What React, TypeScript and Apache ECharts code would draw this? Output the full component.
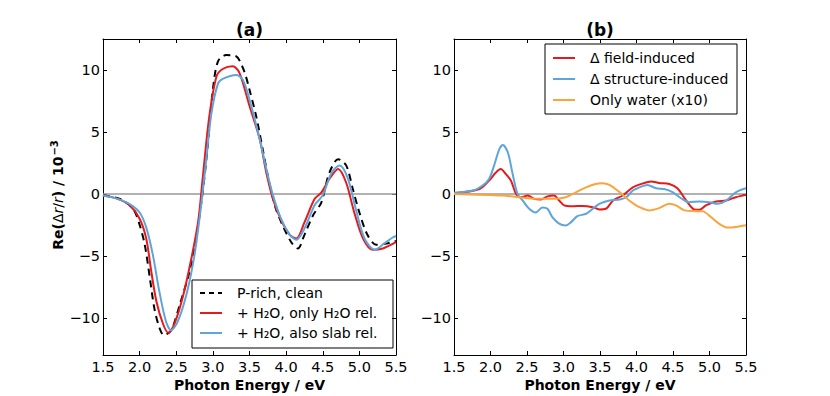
import React, { useEffect, useRef } from "react";
import * as echarts from "echarts";

// ---------- Panel (a) ----------
const E_CLEAN = [1.5, 1.73, 1.91, 2.0, 2.07, 2.14, 2.2, 2.27, 2.33, 2.4, 2.45, 2.55, 2.68, 2.77, 2.86, 2.93, 3.0, 3.07, 3.18, 3.32, 3.4, 3.45, 3.5, 3.59, 3.68, 3.77, 3.86, 3.95, 4.07, 4.16, 4.25, 4.37, 4.48, 4.59, 4.71, 4.82, 4.91, 5.0, 5.11, 5.23, 5.37, 5.5];
const V_CLEAN = [-0.13, -0.4, -1.2, -2.5, -4.1, -6.8, -9.2, -10.8, -11.4, -11.2, -10.8, -8.9, -6.3, -3.6, 0.1, 3.9, 8.4, 10.7, 11.2, 11.1, 10.3, 9.5, 8.4, 6.3, 3.6, 0.9, -1.2, -2.5, -3.9, -4.4, -3.3, -1.7, -0.7, 1.7, 2.8, 2.3, 0.4, -1.5, -3.3, -4.1, -4.0, -3.8];

const E_ONLY = [1.5, 1.7, 1.86, 2.0, 2.09, 2.16, 2.23, 2.32, 2.39, 2.48, 2.59, 2.7, 2.8, 2.86, 2.95, 3.05, 3.14, 3.27, 3.36, 3.5, 3.64, 3.73, 3.82, 3.93, 4.05, 4.14, 4.25, 4.39, 4.48, 4.59, 4.71, 4.82, 4.93, 5.05, 5.18, 5.32, 5.5];
const V_ONLY = [-0.1, -0.4, -0.9, -2.0, -3.6, -6.3, -8.7, -10.5, -11.2, -10.4, -8.3, -5.4, -2.2, 1.2, 6.2, 9.5, 10.1, 10.3, 9.8, 7.1, 4.4, 1.7, -0.4, -2.1, -3.3, -3.6, -2.3, -0.4, 0.1, 1.2, 2.0, 0.9, -1.5, -3.6, -4.5, -4.4, -3.9];

const E_SLAB = [1.5, 1.7, 1.86, 2.0, 2.09, 2.18, 2.27, 2.36, 2.43, 2.52, 2.64, 2.75, 2.84, 2.91, 2.98, 3.07, 3.14, 3.32, 3.41, 3.5, 3.64, 3.73, 3.82, 3.93, 4.05, 4.14, 4.25, 4.39, 4.5, 4.62, 4.73, 4.84, 4.95, 5.07, 5.21, 5.34, 5.46, 5.5];
const V_SLAB = [-0.13, -0.4, -0.8, -1.5, -2.7, -4.9, -7.9, -10.3, -11.0, -10.3, -8.1, -4.9, -0.9, 2.8, 6.5, 8.9, 9.3, 9.6, 9.2, 7.6, 4.4, 2.0, -0.1, -2.0, -3.3, -3.7, -2.8, -0.9, -0.1, 1.7, 2.3, 1.3, -1.2, -3.6, -4.5, -4.0, -3.5, -3.4];

// ---------- Panel (b) ----------
const E_FIELD = [1.5, 1.85, 1.98, 2.07, 2.14, 2.21, 2.28, 2.35, 2.42, 2.51, 2.6, 2.69, 2.78, 2.87, 2.94, 3.01, 3.12, 3.26, 3.4, 3.49, 3.58, 3.68, 3.81, 3.95, 4.09, 4.2, 4.31, 4.45, 4.56, 4.68, 4.79, 4.86, 4.95, 5.09, 5.23, 5.36, 5.5];
const V_FIELD = [0.05, 0.4, 1.07, 1.7, 2.0, 1.6, 1.07, 0, -0.27, -0.13, -0.4, -0.45, -0.2, -0.13, -0.53, -0.93, -1.0, -0.97, -1.07, -1.25, -1.2, -0.53, -0.13, 0.53, 0.85, 1.0, 0.88, 0.8, 0.45, -0.53, -1.25, -1.28, -0.93, -0.61, -0.53, -0.27, -0.08];

const E_STRUCT = [1.5, 1.76, 1.89, 1.98, 2.05, 2.12, 2.17, 2.24, 2.3, 2.37, 2.44, 2.53, 2.62, 2.71, 2.78, 2.85, 2.94, 3.03, 3.1, 3.19, 3.31, 3.4, 3.49, 3.63, 3.77, 3.86, 3.95, 4.04, 4.15, 4.27, 4.38, 4.5, 4.61, 4.72, 4.86, 5.0, 5.11, 5.23, 5.36, 5.5];
const V_STRUCT = [0.1, 0.27, 0.67, 1.2, 2.3, 3.6, 3.95, 3.3, 1.7, 0, -0.53, -1.2, -1.5, -1.1, -1.2, -1.9, -2.4, -2.55, -2.3, -1.8, -1.6, -1.2, -0.8, -0.53, -0.45, -0.27, 0.27, 0.53, 0.72, 0.45, 0.4, 0.13, -0.35, -0.67, -0.61, -0.67, -0.8, -0.53, 0.13, 0.45];

const E_WATER = [1.5, 2.17, 2.39, 2.62, 2.85, 3.03, 3.17, 3.31, 3.44, 3.53, 3.63, 3.77, 3.9, 4.04, 4.18, 4.31, 4.45, 4.54, 4.66, 4.82, 4.91, 5.02, 5.13, 5.25, 5.36, 5.5];
const V_WATER = [0, -0.13, -0.27, -0.4, -0.4, -0.27, 0.13, 0.53, 0.8, 0.85, 0.72, 0.13, -0.53, -1.07, -1.33, -1.15, -0.8, -0.93, -1.33, -1.39, -1.41, -1.87, -2.4, -2.72, -2.67, -2.53];

// ---------- Axes ----------
const X_TICKS = [1.5, 2.0, 2.5, 3.0, 3.5, 4.0, 4.5, 5.0, 5.5];
const Y_TICKS = [-10, -5, 0, 5, 10];
const X_MIN = 1.5;
const X_MAX = 5.5;
const Y_MIN = -13;
const Y_MAX = 12.5;

const TITLES = ["(a)", "(b)"];
const X_NAME = "Photon Energy / eV";
const LEGEND_A = ["P-rich, clean", "+ H₂O, only H₂O rel.", "+ H₂O, also slab rel."];
const LEGEND_B = ["Δ field-induced", "Δ structure-induced", "Only water (x10)"];

const RED = "#e41a1c";
const BLUE = "#5da5da";
const ORANGE = "#faa43a";
const FONT = "DejaVu Sans";
const TICK_FS = 14.5;

const zip = (xs: number[], ys: number[]) => xs.map((x, i) => [x, ys[i]]);

function xAxisDef(gridIndex: number, position: "bottom" | "top", labels: boolean) {
  return {
    type: "value",
    gridIndex,
    position,
    min: X_MIN,
    max: X_MAX,
    axisLine: { show: true, onZero: false, lineStyle: { color: "#000", width: 1 } },
    axisTick: { show: true, inside: true, length: 4, customValues: X_TICKS, lineStyle: { color: "#000", width: 1 } },
    axisLabel: {
      show: labels,
      customValues: X_TICKS,
      formatter: (v: number) => v.toFixed(1),
      color: "#000",
      fontSize: TICK_FS,
      fontFamily: FONT,
      margin: 4,
    },
    splitLine: { show: false },
  };
}

function yAxisDef(gridIndex: number, position: "left" | "right", labels: boolean) {
  return {
    type: "value",
    gridIndex,
    position,
    min: Y_MIN,
    max: Y_MAX,
    axisLine: { show: true, onZero: false, lineStyle: { color: "#000", width: 1 } },
    axisTick: { show: true, inside: true, length: 4, customValues: Y_TICKS, lineStyle: { color: "#000", width: 1 } },
    axisLabel: {
      show: labels,
      customValues: Y_TICKS,
      formatter: (v: number) => String(v).replace("-", "\u2212"),
      color: "#000",
      fontSize: TICK_FS,
      fontFamily: FONT,
      margin: 3,
    },
    splitLine: { show: false },
  };
}

function lineSeries(name: string, xi: number, yi: number, data: number[][], color: string, type: any, withZero: boolean) {
  const s: any = {
    type: "line",
    name,
    xAxisIndex: xi,
    yAxisIndex: yi,
    data,
    symbol: "none",
    showSymbol: false,
    smooth: 0.3,
    lineStyle: { color, width: 2, type },
    silent: true,
  };
  if (withZero) {
    s.markLine = {
      silent: true,
      symbol: "none",
      label: { show: false },
      lineStyle: { color: "#999", width: 1.5, type: "solid" },
      data: [{ yAxis: 0 }],
      z: 1,
    };
  }
  return s;
}

function legendGraphic(x: number, y: number, w: number, h: number, rows: number[], items: { text: string; color: string; dash: any }[]) {
  const children: any[] = [
    { type: "rect", shape: { x, y, width: w, height: h }, style: { fill: "#fff", stroke: "#000", lineWidth: 1 } },
  ];
  items.forEach((it, i) => {
    children.push({
      type: "line",
      shape: { x1: x + 8, y1: rows[i], x2: x + 30, y2: rows[i] },
      style: { stroke: it.color, lineWidth: 2, lineDash: it.dash },
    });
    children.push({
      type: "text",
      x: x + 45,
      y: rows[i],
      style: { text: it.text, fontSize: 14, fontFamily: FONT, fill: "#000", verticalAlign: "middle", align: "left" },
    });
  });
  return { type: "group", children };
}

export default function App() {
  const ref = useRef<HTMLDivElement>(null);
  useEffect(() => {
    if (!ref.current) return;
    const chart = echarts.init(ref.current, null, { renderer: "svg" });
    const titleStyle = { fontSize: 17, fontWeight: "bold", fontFamily: FONT, fill: "#000", align: "center", verticalAlign: "middle" };
    const nameStyle = { fontSize: 14, fontWeight: "bold", fontFamily: FONT, fill: "#000", align: "center", verticalAlign: "middle" };
    const option: any = {
      animation: false,
      backgroundColor: "#fff",
      grid: [
        { left: 103, top: 39, width: 293, height: 316 },
        { left: 454, top: 39, width: 292, height: 316 },
      ],
      xAxis: [xAxisDef(0, "bottom", true), xAxisDef(0, "top", false), xAxisDef(1, "bottom", true), xAxisDef(1, "top", false)],
      yAxis: [yAxisDef(0, "left", true), yAxisDef(0, "right", false), yAxisDef(1, "left", true), yAxisDef(1, "right", false)],
      series: [
        lineSeries(LEGEND_A[0], 0, 0, zip(E_CLEAN, V_CLEAN), "#000", [7, 5], true),
        lineSeries(LEGEND_A[1], 0, 0, zip(E_ONLY, V_ONLY), RED, "solid", false),
        lineSeries(LEGEND_A[2], 0, 0, zip(E_SLAB, V_SLAB), BLUE, "solid", false),
        lineSeries(LEGEND_B[0], 2, 2, zip(E_FIELD, V_FIELD), RED, "solid", true),
        lineSeries(LEGEND_B[1], 2, 2, zip(E_STRUCT, V_STRUCT), BLUE, "solid", false),
        lineSeries(LEGEND_B[2], 2, 2, zip(E_WATER, V_WATER), ORANGE, "solid", false),
      ],
      graphic: [
        { type: "text", x: 249.5, y: 30, style: { ...titleStyle, text: TITLES[0] } },
        { type: "text", x: 600, y: 30, style: { ...titleStyle, text: TITLES[1] } },
        { type: "text", x: 249.5, y: 385, style: { ...nameStyle, text: X_NAME } },
        { type: "text", x: 600, y: 385, style: { ...nameStyle, text: X_NAME } },
        {
          type: "text",
          x: 58,
          y: 195,
          rotation: Math.PI / 2,
          style: {
            text: "{b|Re(}{m|Δ}{i|r}{m|/}{i|r}{b|) / 10}{s|−3}",
            align: "center",
            verticalAlign: "middle",
            fill: "#000",
            rich: {
              b: { fontSize: 14, fontWeight: "bold", fontFamily: FONT, fill: "#000" },
              m: { fontSize: 14, fontFamily: FONT, fill: "#000" },
              i: { fontSize: 14, fontStyle: "italic", fontFamily: FONT, fill: "#000" },
              s: { fontSize: 10, fontWeight: "bold", fontFamily: FONT, fill: "#000", verticalAlign: "top", padding: [0, 0, 8, 1] },
            },
          },
        },
        legendGraphic(192, 280, 201, 68, [293, 313, 333], [
          { text: LEGEND_A[0], color: "#000", dash: [5, 4] },
          { text: LEGEND_A[1], color: RED, dash: null },
          { text: LEGEND_A[2], color: BLUE, dash: null },
        ]),
        legendGraphic(545, 44, 192, 70, [58, 79, 100], [
          { text: LEGEND_B[0], color: RED, dash: null },
          { text: LEGEND_B[1], color: BLUE, dash: null },
          { text: LEGEND_B[2], color: ORANGE, dash: null },
        ]),
      ],
    };
    chart.setOption(option);
    return () => chart.dispose();
  }, []);
  return <div ref={ref} style={{ position: "absolute", left: 0, top: 0, width: 830, height: 396 }} />;
}
